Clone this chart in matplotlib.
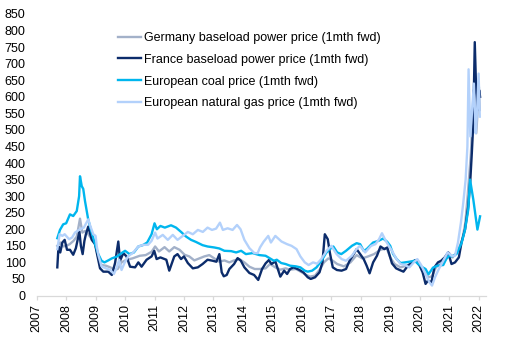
import matplotlib
matplotlib.use("Agg")
import matplotlib.pyplot as plt

# Germany baseload power price (1mth fwd)
de_years = [
    2007.70, 2007.80, 2007.90, 2008.00, 2008.12, 2008.25, 2008.36, 2008.47, 2008.55, 2008.65,
    2008.75, 2008.87, 2008.98, 2009.08, 2009.20, 2009.35, 2009.50, 2009.65, 2009.75, 2009.88,
    2010.05, 2010.25, 2010.50, 2010.70, 2010.90, 2011.02, 2011.15, 2011.34, 2011.50, 2011.67,
    2011.85, 2012.02, 2012.18, 2012.35, 2012.52, 2012.69, 2012.86, 2013.03, 2013.20, 2013.37,
    2013.54, 2013.70, 2013.88, 2014.05, 2014.22, 2014.40, 2014.56, 2014.77, 2014.92, 2015.10,
    2015.27, 2015.45, 2015.60, 2015.80, 2016.00, 2016.15, 2016.28, 2016.45, 2016.62, 2016.75,
    2016.90, 2017.05, 2017.20, 2017.43, 2017.65, 2017.86, 2018.05, 2018.25, 2018.45, 2018.67,
    2018.88, 2019.00, 2019.15, 2019.35, 2019.55, 2019.70, 2019.90, 2020.05, 2020.20, 2020.30,
    2020.42, 2020.55, 2020.70, 2020.85, 2021.00, 2021.12, 2021.30, 2021.45, 2021.55, 2021.62,
    2021.68, 2021.74, 2021.78, 2021.83, 2021.88, 2021.92, 2021.97, 2022.01, 2022.04,
]
de_price = [
    150, 160, 148, 150, 155, 165, 178, 232, 190, 195,
    185, 170, 160, 118, 92, 90, 85, 78, 80, 100,
    108, 112, 120, 122, 132, 148, 133, 146, 133, 146,
    138, 123, 118, 106, 112, 118, 122, 112, 102, 106,
    100, 106, 110, 100, 87, 80, 80, 82, 95, 85,
    78, 82, 78, 80, 70, 62, 57, 60, 80, 100,
    112, 105, 95, 88, 100, 122, 112, 118, 125, 138,
    143, 115, 95, 85, 90, 95, 107, 85, 65, 55,
    58, 85, 95, 105, 128, 115, 135, 170, 220, 290,
    360, 430, 510, 620, 560, 490, 560, 630, 560,
]

# France baseload power price (1mth fwd)
fr_years = [
    2007.70, 2007.74, 2007.80, 2007.87, 2007.95, 2008.03, 2008.13, 2008.24, 2008.33, 2008.45,
    2008.50, 2008.56, 2008.62, 2008.67, 2008.75, 2008.87, 2008.98, 2009.09, 2009.15, 2009.26,
    2009.43, 2009.55, 2009.66, 2009.77, 2009.83, 2009.94, 2010.05, 2010.17, 2010.34, 2010.45,
    2010.56, 2010.73, 2010.90, 2010.99, 2011.07, 2011.20, 2011.40, 2011.50, 2011.67, 2011.78,
    2011.90, 2012.00, 2012.13, 2012.30, 2012.47, 2012.63, 2012.80, 2012.97, 2013.10, 2013.20,
    2013.28, 2013.35, 2013.45, 2013.54, 2013.70, 2013.82, 2013.93, 2014.05, 2014.22, 2014.38,
    2014.52, 2014.65, 2014.77, 2014.88, 2014.97, 2015.10, 2015.27, 2015.40, 2015.50, 2015.60,
    2015.72, 2015.90, 2016.05, 2016.20, 2016.30, 2016.45, 2016.60, 2016.70, 2016.78, 2016.88,
    2016.95, 2017.05, 2017.19, 2017.35, 2017.50, 2017.62, 2017.76, 2017.86, 2017.98, 2018.10,
    2018.20, 2018.30, 2018.42, 2018.55, 2018.67, 2018.80, 2018.90, 2019.06, 2019.20, 2019.32,
    2019.45, 2019.60, 2019.75, 2019.85, 2020.00, 2020.10, 2020.20, 2020.28, 2020.40, 2020.50,
    2020.62, 2020.73, 2020.85, 2020.97, 2021.08, 2021.20, 2021.33, 2021.42, 2021.54, 2021.65,
    2021.72, 2021.77, 2021.82, 2021.87, 2021.92, 2021.97, 2022.02, 2022.05,
]
fr_price = [
    85, 148, 130, 160, 168, 138, 138, 123, 143, 193,
    150, 125, 165, 185, 208, 168, 155, 108, 82, 72,
    72, 62, 98, 163, 105, 128, 118, 87, 85, 100,
    87, 108, 118, 135, 110, 115, 108, 75, 118, 125,
    110, 118, 98, 82, 85, 95, 108, 105, 102, 125,
    70, 58, 62, 80, 95, 113, 105, 85, 68, 62,
    47, 80, 97, 107, 95, 103, 57, 75, 65, 80,
    85, 78, 70, 55, 50, 55, 70, 100, 185, 170,
    130, 85, 77, 75, 80, 105, 125, 140, 125, 110,
    90, 67, 100, 120, 148, 140, 145, 97, 82, 77,
    72, 90, 100, 107, 90, 70, 35, 45, 40, 85,
    100, 105, 115, 130, 95, 100, 115, 160, 200, 270,
    350, 430, 520, 765, 610, 560, 620, 600,
]

# European coal price (1mth fwd)
coal_years = [
    2007.70, 2007.79, 2007.90, 2008.00, 2008.13, 2008.24, 2008.36, 2008.44, 2008.47, 2008.53,
    2008.58, 2008.64, 2008.75, 2008.87, 2008.98, 2009.09, 2009.20, 2009.30, 2009.43, 2009.55,
    2009.73, 2009.88, 2010.00, 2010.15, 2010.30, 2010.45, 2010.60, 2010.75, 2010.90, 2011.00,
    2011.08, 2011.20, 2011.35, 2011.56, 2011.73, 2011.90, 2012.07, 2012.24, 2012.40, 2012.63,
    2012.80, 2013.03, 2013.20, 2013.37, 2013.60, 2013.77, 2013.94, 2014.10, 2014.33, 2014.56,
    2014.77, 2014.92, 2015.05, 2015.15, 2015.30, 2015.45, 2015.60, 2015.80, 2015.95, 2016.10,
    2016.20, 2016.35, 2016.50, 2016.68, 2016.82, 2016.92, 2017.07, 2017.20, 2017.34, 2017.50,
    2017.70, 2017.86, 2017.98, 2018.10, 2018.20, 2018.42, 2018.60, 2018.76, 2018.90, 2019.00,
    2019.10, 2019.22, 2019.35, 2019.50, 2019.65, 2019.83, 2019.95, 2020.10, 2020.20, 2020.30,
    2020.45, 2020.60, 2020.80, 2020.90, 2021.00, 2021.08, 2021.25, 2021.42, 2021.54, 2021.65,
    2021.71, 2021.82, 2021.96, 2022.05,
]
coal_price = [
    173, 198, 215, 218, 245, 240, 255, 300, 360, 330,
    322, 285, 229, 189, 155, 125, 105, 100, 106, 112,
    118, 128, 135, 125, 130, 148, 152, 160, 185, 218,
    200, 210, 205, 212, 205, 192, 178, 168, 162, 152,
    148, 145, 142, 135, 134, 130, 135, 125, 128, 122,
    120, 112, 105, 108, 98, 95, 90, 88, 85, 75,
    72, 75, 85, 107, 128, 138, 148, 130, 125, 135,
    150, 158, 155, 135, 140, 160, 165, 172, 162, 150,
    125, 110, 98, 100, 102, 105, 95, 85, 80, 64,
    84, 90, 92, 110, 120, 118, 125, 158, 199, 260,
    350, 290, 199, 239,
]

# European natural gas price (1mth fwd)
gas_years = [
    2007.70, 2007.78, 2007.87, 2007.95, 2008.10, 2008.20, 2008.30, 2008.47, 2008.60, 2008.75,
    2008.82, 2008.92, 2009.00, 2009.04, 2009.10, 2009.20, 2009.35, 2009.50, 2009.62, 2009.72,
    2009.80, 2009.88, 2009.98, 2010.10, 2010.28, 2010.45, 2010.62, 2010.78, 2010.90, 2011.02,
    2011.10, 2011.28, 2011.45, 2011.62, 2011.78, 2011.96, 2012.13, 2012.30, 2012.47, 2012.64,
    2012.80, 2012.95, 2013.09, 2013.22, 2013.32, 2013.48, 2013.65, 2013.80, 2013.92, 2014.05,
    2014.22, 2014.39, 2014.50, 2014.58, 2014.70, 2014.86, 2014.95, 2015.10, 2015.31, 2015.50,
    2015.65, 2015.82, 2015.95, 2016.10, 2016.23, 2016.38, 2016.52, 2016.66, 2016.84, 2017.00,
    2017.18, 2017.35, 2017.50, 2017.70, 2017.86, 2017.97, 2018.15, 2018.35, 2018.50, 2018.62,
    2018.72, 2018.85, 2018.95, 2019.06, 2019.20, 2019.35, 2019.50, 2019.65, 2019.80, 2019.92,
    2020.05, 2020.20, 2020.33, 2020.42, 2020.52, 2020.65, 2020.80, 2020.95, 2021.08, 2021.20,
    2021.30, 2021.40, 2021.48, 2021.56, 2021.62, 2021.66, 2021.72, 2021.78, 2021.84, 2021.90,
    2021.95, 2022.00, 2022.04,
]
gas_price = [
    140, 185, 180, 185, 170, 175, 190, 200, 205, 230,
    210, 185, 180, 148, 120, 88, 82, 77, 65, 85,
    108, 77, 98, 118, 130, 148, 153, 153, 165, 190,
    172, 183, 168, 183, 168, 180, 192, 185, 198, 192,
    205, 198, 202, 220, 198, 203, 198, 213, 200, 168,
    143, 128, 128, 145, 162, 180, 160, 180, 163, 155,
    150, 140, 118, 100, 92, 100, 96, 110, 135, 150,
    125, 110, 105, 120, 140, 150, 130, 150, 155, 170,
    188, 165, 150, 135, 112, 95, 92, 85, 100, 110,
    92, 64, 40, 30, 55, 80, 105, 130, 120, 120,
    160, 220, 280, 350, 450, 683, 480, 560, 640, 490,
    560, 670, 540,
]

labels = [
    "Germany baseload power price (1mth fwd)",
    "France baseload power price (1mth fwd)",
    "European coal price (1mth fwd)",
    "European natural gas price (1mth fwd)",
]
colors = ["#A3B1C9", "#0C2C6B", "#00B6EE", "#B3D1FB"]
year_ticks = list(range(2007, 2023))

plt.rcParams["font.family"] = ["Liberation Sans", "DejaVu Sans"]

fig = plt.figure(figsize=(5.11, 3.47), dpi=100)
ax = fig.add_axes([0.0718, 0.1484, 0.8792, 0.8113])

series = [(de_years, de_price), (fr_years, fr_price),
          (coal_years, coal_price), (gas_years, gas_price)]
for (xs, ys), lab, col in zip(series, labels, colors):
    ax.plot(xs, ys, color=col, lw=1.7, label=lab, solid_joinstyle="round")

ax.set_xlim(2007, 2022.25)
ax.set_ylim(0, 850)
ax.set_yticks(range(0, 851, 50))
ax.set_xticks(year_ticks)
ax.set_xticklabels([str(y) for y in year_ticks], rotation=90)

for side in ["top", "right", "left"]:
    ax.spines[side].set_visible(False)
ax.spines["bottom"].set_color("#D9D9D9")
ax.spines["bottom"].set_linewidth(0.9)
ax.tick_params(axis="x", length=3, width=0.9, color="#D9D9D9", pad=3,
               labelsize=9, labelcolor="black")
ax.tick_params(axis="y", length=0, pad=8, labelsize=9, labelcolor="black")

ax.legend(loc="upper left", bbox_to_anchor=(118 / 511, 1 - 32 / 347),
          bbox_transform=fig.transFigure, frameon=False, fontsize=9,
          borderpad=0, handlelength=1.85, handletextpad=0.2, labelspacing=0.78,
          borderaxespad=0)

fig.savefig("out.png", dpi=100)
